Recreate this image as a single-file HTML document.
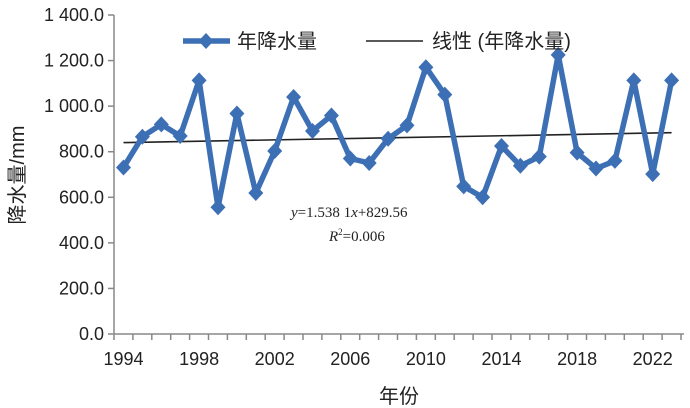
<!DOCTYPE html>
<html><head><meta charset="utf-8"><style>
body{margin:0;background:#fff;}
svg{display:block;}
text{font-family:"Liberation Sans","Noto Sans CJK SC",sans-serif;fill:#222;}
text.eq{font-family:"Liberation Serif","Noto Serif CJK SC",serif;}
</style></head><body>
<svg width="690" height="408" viewBox="0 0 690 408">
<defs><path id="m" d="M0,-8 L7.5,0 L0,8 L-7.5,0 Z" fill="#3d6fb5"/></defs>
<g stroke="#888" stroke-width="1.5">
<line x1="114" y1="15" x2="114" y2="334"/>
<line x1="114" y1="334" x2="684" y2="334"/>
</g>
<g id="yt" stroke="#888" stroke-width="1.5"></g>
<g id="xt" stroke="#888" stroke-width="1.5"></g>
<g id="yl" font-size="18" text-anchor="end"></g>
<g id="xl" font-size="18" text-anchor="middle"></g>
<text x="0" y="0" font-size="20" transform="translate(24,175) rotate(-90)" text-anchor="middle">降水量/mm</text>
<text x="399" y="403" font-size="20" text-anchor="middle">年份</text>
<line x1="123.5" y1="142.6" x2="671.6" y2="132.7" stroke="#222" stroke-width="1.6"/>
<polyline id="pl" fill="none" stroke="#3d6fb5" stroke-width="5.5" stroke-linejoin="round"/>
<g id="mk"></g>
<line x1="183" y1="41" x2="230" y2="41" stroke="#3d6fb5" stroke-width="5.5"/>
<use href="#m" x="206" y="41"/>
<text x="237" y="48" font-size="20">年降水量</text>
<line x1="366" y1="41" x2="423" y2="41" stroke="#222" stroke-width="1.6"/>
<text x="432" y="48" font-size="20">线性 (年降水量)</text>
<text class="eq" x="291" y="217" font-size="15"><tspan font-style="italic">y</tspan>=1.538 1<tspan font-style="italic">x</tspan>+829.56</text>
<text class="eq" x="329" y="241" font-size="15"><tspan font-style="italic">R</tspan><tspan font-size="9" dy="-6">2</tspan><tspan dy="6">=0.006</tspan></text>
</svg>
<script>
var ns="http://www.w3.org/2000/svg";
function el(p,t,a,txt){var e=document.createElementNS(ns,t);for(var k in a)e.setAttribute(k,a[k]);if(txt)e.textContent=txt;document.getElementById(p).appendChild(e);}
for(var i=0;i<=7;i++){var y=334-i*45.57;el('yt','line',{x1:108,x2:114,y1:y,y2:y});
var v=i*200;var s=v>=1000?('1 '+String(v-1000).padStart(3,'0')+'.0'):(v+'.0');el('yl','text',{x:104,y:y+6},s);}
for(var i=0;i<=30;i++){var x=114+i*18.9;el('xt','line',{x1:x,x2:x,y1:334,y2:340});}
for(var yr=1994;yr<=2022;yr+=4){el('xl','text',{x:123.5+(yr-1994)*18.9,y:365},String(yr));}
var ys=[167.5,136.7,124.4,136,80.4,207.2,113.5,193,151,97,131,115.5,158.5,163,138.7,125.4,67.2,94.6,186.4,197.3,146,165.8,156.6,54.9,152.6,168.5,160.9,80.4,174.1,80.4];
var pts=[];ys.forEach(function(y,i){var x=123.5+i*18.9;pts.push(x+','+y);el('mk','use',{href:'#m',x:x,y:y});});
document.getElementById('pl').setAttribute('points',pts.join(' '));
</script>
</body></html>
